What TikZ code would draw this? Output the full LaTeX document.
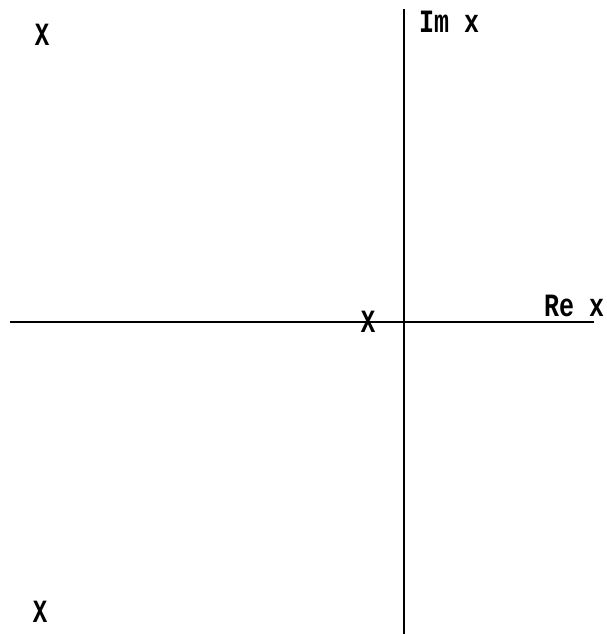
\documentclass[tikz,border=0pt]{standalone}
\usepackage{fontspec}
\newfontfamily\monof{Liberation Mono}
\begin{document}
\begin{tikzpicture}[x=1pt,y=-1pt,
  axis/.style={line width=1.8pt,black},
  lab/.style={font=\monof\bfseries\fontsize{25}{25}\selectfont,inner sep=0pt,yscale=1.3},
  pole/.style={font=\monof\bfseries\fontsize{24}{24}\selectfont,inner sep=0pt,yscale=1.35}]
\useasboundingbox (0,0) rectangle (607,634);
\coordinate (W) at (10,322);
\coordinate (E) at (594,322);
\coordinate (N) at (404,9);
\coordinate (S) at (404,634);
\draw[axis] (W) -- (E);
\draw[axis] (N) -- (S);
\node[lab,anchor=west] (im) at (419,22) {Im x};
\node[lab,anchor=west] (re) at (544,306) {Re x};
\node[pole] (p1) at (42,35) {X};
\node[pole] (p2) at (368,322) {X};
\node[pole] (p3) at (40,612) {X};
\end{tikzpicture}
\end{document}
